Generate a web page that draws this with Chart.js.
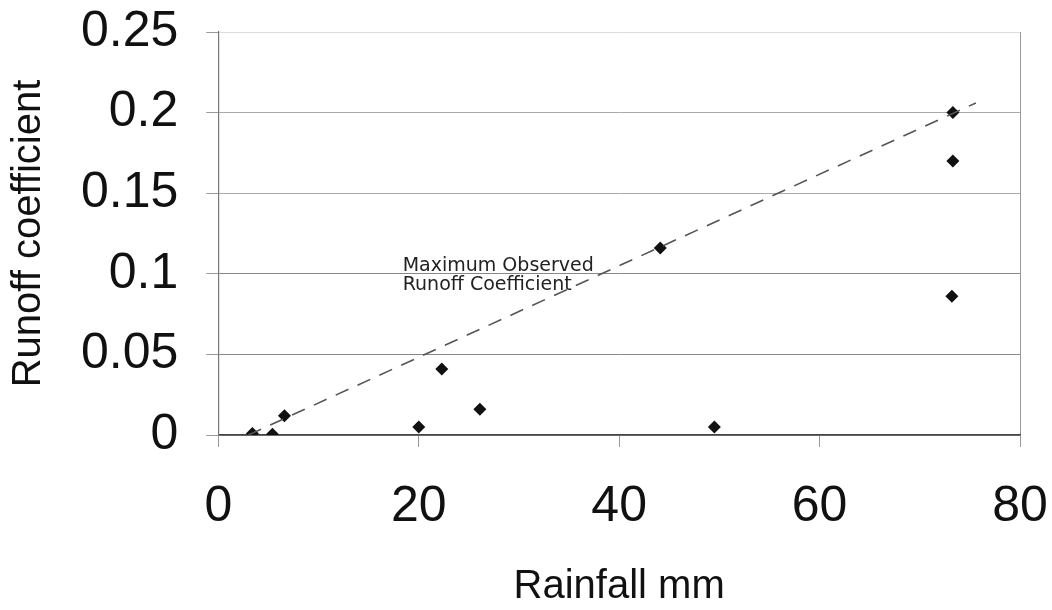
<!DOCTYPE html>
<html lang="en">
<head>
    <meta charset="UTF-8">
    <title>Runoff coefficient vs rainfall</title>
    <script src="https://cdn.jsdelivr.net/npm/chart.js@4.4.0/dist/chart.umd.min.js"></script>
    <style>
        html, body { margin: 0; padding: 0; background: #fff; }
        #wrap { width: 1052px; height: 610px; position: relative; }
    </style>
</head>
<body>
<div id="wrap">
    <canvas id="myChart"></canvas>
</div>
<script>
    // observed points
    var rainfall = [3.4, 5.4, 6.6, 20.0, 22.3, 26.1, 44.1, 49.5, 73.3, 73.3, 73.2];
    var runoff = [0.001, 0.0005, 0.012, 0.005, 0.041, 0.016, 0.116, 0.005, 0.2, 0.17, 0.086];

    // maximum observed runoff coefficient line (ends)
    var maxLineRain = [3.0, 75.6];
    var maxLineCoef = [0, 0.206];

    var noteLines = ['Maximum Observed', 'Runoff Coefficient'];
    var notePos = [18.4, 0.102];

    var pts = [];
    rainfall.forEach(function (r, i) {
        pts.push({x: r, y: runoff[i]});
    });
    var linePts = [];
    maxLineRain.forEach(function (r, i) {
        linePts.push({x: r, y: maxLineCoef[i]});
    });

    var notePlugin = {
        id: 'note',
        afterDatasetsDraw: function (chart) {
            var ctx = chart.ctx;
            var px = chart.scales.x.getPixelForValue(notePos[0]);
            var py = chart.scales.y.getPixelForValue(notePos[1]);
            ctx.save();
            ctx.font = '19px "DejaVu Sans"';
            ctx.fillStyle = '#222';
            ctx.textBaseline = 'alphabetic';
            ctx.textAlign = 'left';
            noteLines.forEach(function (t, i) {
                ctx.fillText(t, px, py + i * 19);
            });
            ctx.restore();
        }
    };

    var ctx = document.getElementById('myChart').getContext('2d');
    var chart = new Chart(ctx, {
        type: 'scatter',
        data: {
            datasets: [{
                type: 'line',
                data: linePts,
                borderColor: '#555',
                borderWidth: 1.6,
                borderDash: [14, 10],
                pointRadius: 0,
                fill: false
            }, {
                data: pts,
                pointStyle: 'rectRot',
                pointRadius: 6.5,
                backgroundColor: '#111',
                borderColor: '#111',
                borderWidth: 0
            }]
        },
        options: {
            responsive: true,
            maintainAspectRatio: false,
            animation: false,
            layout: {padding: {left: 5, right: 0, top: 0, bottom: 3}},
            plugins: {
                legend: {display: false},
                tooltip: {enabled: false}
            },
            scales: {
                x: {
                    type: 'linear',
                    min: 0,
                    max: 80,
                    afterFit: function (s) {
                        s.paddingLeft = 14;
                        s.paddingRight = 32;
                    },
                    ticks: {
                        stepSize: 20,
                        padding: 30,
                        color: '#111',
                        font: {family: '"Liberation Sans"', size: 50}
                    },
                    grid: {
                        color: function (c) {
                            return c.tick && c.tick.value === 80 ? '#999' : 'rgba(0,0,0,0)';
                        },
                        tickColor: '#999',
                        tickLength: 12
                    },
                    border: {display: true, color: '#444', width: 1.5},
                    title: {
                        display: true,
                        text: 'Rainfall mm',
                        color: '#111',
                        font: {family: '"Liberation Sans"', size: 40, lineHeight: 1},
                        padding: 0
                    }
                },
                y: {
                    min: 0,
                    max: 0.25,
                    afterFit: function (s) {
                        s.paddingTop = 32;
                        s.paddingBottom = 30;
                    },
                    ticks: {
                        stepSize: 0.05,
                        padding: 28,
                        color: '#111',
                        font: {family: '"Liberation Sans"', size: 50},
                        callback: function (v) {
                            return String(+v.toFixed(2));
                        }
                    },
                    grid: {
                        color: function (c) {
                            if (!c.tick) return '#999';
                            var v = +c.tick.value.toFixed(2);
                            if (v === 0.25) return '#ddd';
                            if (v >= 0.15) return '#aaa';
                            return '#888';
                        },
                        tickColor: '#999',
                        tickLength: 12
                    },
                    border: {display: true, color: '#777', width: 1.2},
                    title: {
                        display: true,
                        text: 'Runoff coefficient',
                        color: '#111',
                        font: {family: '"Liberation Sans"', size: 40},
                        padding: {top: 0, bottom: 0}
                    }
                }
            }
        },
        plugins: [notePlugin]
    });
</script>
</body>
</html>
